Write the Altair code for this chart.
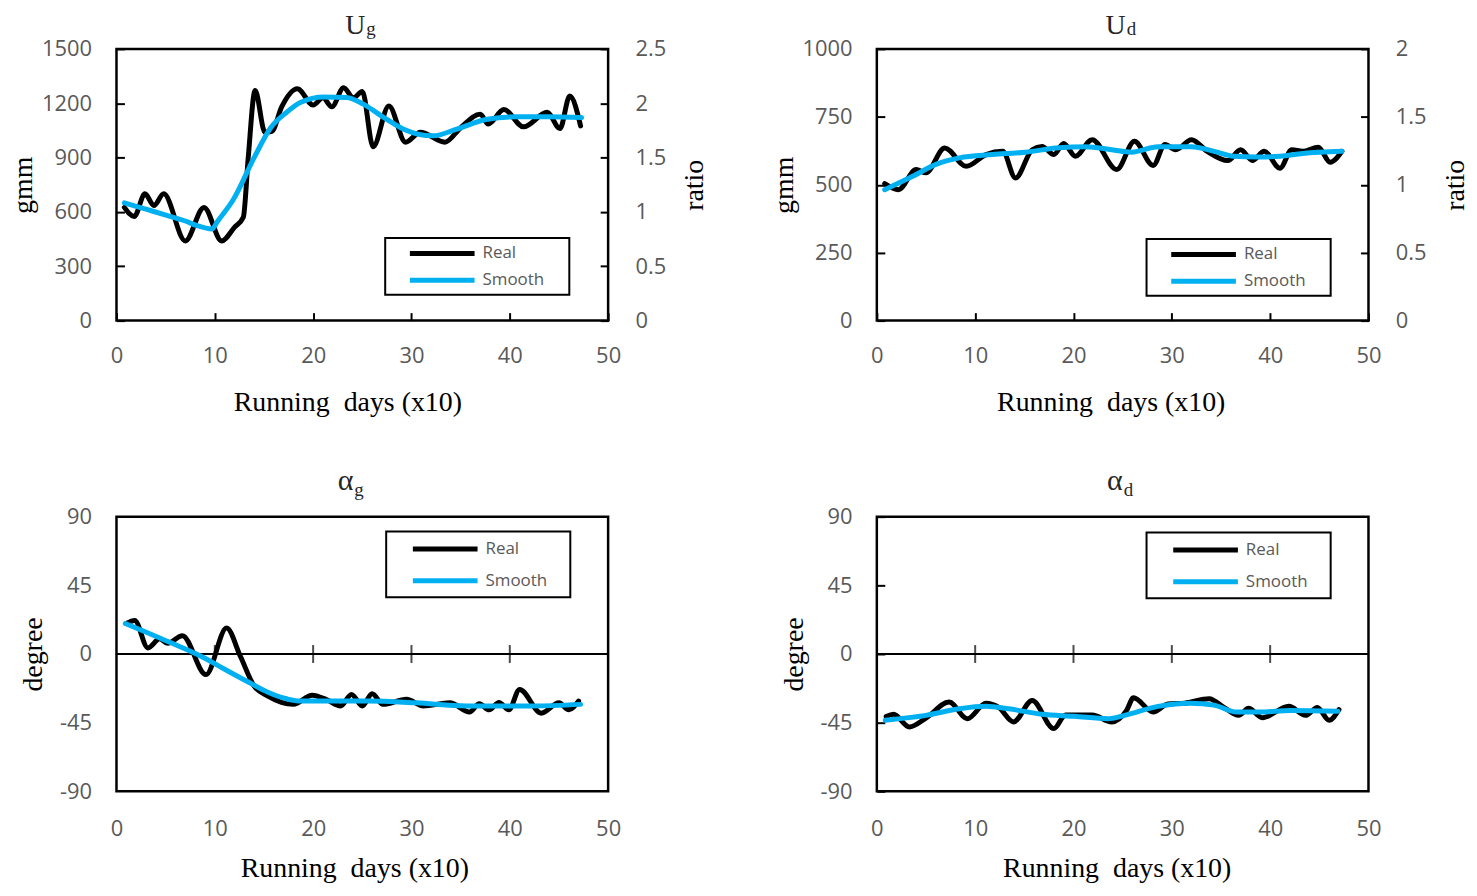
import altair as alt
import pandas as pd

# ---------------- data ----------------
x_ticks = [0, 10, 20, 30, 40, 50]
zero_line_ticks = [10, 20, 30, 40]
series_names = ["Real", "Smooth"]
series_colors = ["#000000", "#00B0F0"]

# U_g  (gmm)
ug_real_x = [0.8, 1.8, 2.9, 3.8, 4.8, 7.0, 8.9, 10.7, 12.0, 12.9, 13.4, 14.1, 15.1, 15.8, 16.8, 18.4,
             20.0, 21.0, 21.9, 23.1, 24.1, 25.0, 26.1, 27.7, 29.4, 30.9, 33.4, 35.0, 37.0, 37.8,
             39.4, 41.4, 43.8, 45.1, 46.1, 47.2]
ug_real_y = [625, 575, 700, 635, 700, 440, 625, 440, 515, 570, 900, 1270, 1040, 1045, 1180, 1280,
             1190, 1230, 1180, 1285, 1230, 1265, 960, 1185, 985, 1040, 985, 1065, 1140, 1085,
             1165, 1070, 1150, 1060, 1240, 1075]
ug_smooth_x = [0.8, 3.0, 5.2, 7.0, 8.2, 9.7, 10.3, 11.9, 14.0, 15.7, 17.3, 18.7, 21.1, 23.4, 25.1,
               27.2, 29.2, 32.2, 34.6, 37.7, 40.7, 43.8, 47.3]
ug_smooth_y = [650, 615, 580, 550, 524, 506, 550, 670, 900, 1066, 1150, 1204, 1235, 1232, 1195,
               1121, 1057, 1020, 1057, 1112, 1125, 1125, 1121]
ug_ticks = [0, 300, 600, 900, 1200, 1500]
ug_ratio_ticks = [0, 0.5, 1, 1.5, 2, 2.5]

# U_d  (gmm)
ud_real_x = [0.8, 2.2, 4.0, 5.0, 6.9, 9.1, 11.1, 12.8, 14.1, 15.8, 16.8, 18.0, 19.0, 20.2, 21.9,
             24.4, 26.2, 28.1, 29.3, 30.4, 32.0, 33.6, 35.7, 37.0, 38.2, 39.4, 41.0, 42.2, 43.3,
             44.9, 46.1, 47.3]
ud_real_y = [504, 482, 556, 544, 635, 568, 611, 623, 525, 629, 641, 611, 652, 605, 666,
             556, 660, 571, 648, 629, 666, 623, 589, 629, 589, 623, 561, 629, 623,
             638, 583, 623]
ud_smooth_x = [0.8, 3.7, 6.0, 8.4, 11.75, 15.1, 18.5, 21.2, 23.9, 25.9, 28.6, 32.0, 34.3, 36.3,
               38.7, 41.0, 43.3, 47.3]
ud_smooth_y = [482, 532, 575, 599, 611, 620, 636, 640, 629, 620, 640, 640, 623, 605,
               602, 605, 615, 623]
ud_ticks = [0, 250, 500, 750, 1000]
ud_ratio_ticks = [0, 0.5, 1, 1.5, 2]

# alpha_g (degree)
ag_real_x = [1.0, 1.85, 3.2, 4.4, 5.2, 6.7, 9.1, 11.2, 12.6, 14.0, 15.4, 18.0, 19.9, 21.4, 22.8,
             23.9, 25.0, 26.0, 27.1, 29.5, 31.2, 33.9, 35.9, 36.9, 37.9, 38.9, 39.9, 41.0, 43.2,
             45.0, 46.0, 47.0]
ag_real_y = [20, 22, 4, 10, 7, 12, -13.5, 17, -1.5, -21, -27.6, -33, -27, -30, -34,
             -26.5, -34, -26, -33, -29.7, -34, -32, -38, -32.6, -36.6, -31.7, -36.6, -23.2, -38.8,
             -31.9, -36.6, -30.8]
ag_smooth_x = [0.9, 5.3, 8.6, 11.0, 13.3, 15.4, 17.4, 18.7, 25.5, 30.5, 35.6, 42.3, 47.2]
ag_smooth_y = [20, 8, -1.5, -10, -18, -25, -29.5, -30.8, -30.8, -32, -34, -34, -33]

# alpha_d (degree)
ad_real_x = [0.95, 1.7, 3.3, 5.0, 7.35, 9.2, 11.1, 12.4, 13.9, 15.8, 18.0, 19.2, 21.9, 23.9, 25.4,
             26.1, 28.1, 29.6, 31.3, 33.8, 35.3, 36.8, 37.8, 39.2, 41.9, 43.6, 44.8, 46.0, 47.0]
ad_real_y = [-41, -39.5, -47.8, -42, -31.5, -42.4, -32.2, -35, -44.5, -30.4, -48.9, -40, -40, -44.5, -37,
             -28.7, -38, -32.7, -32.2, -29.3, -35, -40.2, -35.6, -41.7, -34.3, -40.2, -35, -43.4, -36.4]
ad_smooth_x = [0.85, 5.0, 8.4, 11.1, 13.4, 16.8, 20.1, 23.5, 25.2, 28.6, 31.9, 34.3, 36.6, 39.0,
               42.0, 46.9]
ad_smooth_y = [-43.4, -40.2, -35.9, -34.3, -35.9, -39.5, -40.8, -42.4, -40.2, -34.3, -32.2, -33.5,
               -38, -38, -37, -37.5]
deg_ticks = [-90, -45, 0, 45, 90]

title_main = ["U", "U", "\u03b1", "\u03b1"]
title_sub = ["g", "d", "g", "d"]
x_title = "Running\u00a0 days (x10)"

# ---------------- styling ----------------
W = 494
H_TOP = 273
H_BOT = 276
SERIF = "Liberation Serif"
SANS = "Open Sans"
GRAY = "#595959"


def series_df(rx, ry, sx, sy):
    return pd.DataFrame({
        "day": list(rx) + list(sx),
        "val": list(ry) + list(sy),
        "series": ["Real"] * len(rx) + ["Smooth"] * len(sx),
    })


def make_legend(lx, ly, pad, rowpad, right_pt):
    return alt.Legend(
        title=None, orient="none", legendX=lx, legendY=ly, padding=pad, rowPadding=rowpad,
        symbolType=f"M-6.2,0M-4,0H4M{right_pt},0", symbolSize=264, symbolStrokeWidth=5,
        symbolOffset=41.8, labelOffset=29.5,
        labelFont=SANS, labelFontSize=17, labelColor=GRAY,
        strokeColor="black", fillColor="white",
    )


def x_axis(top, title_x):
    common = dict(values=x_ticks, format="d", orient="bottom", domain=False, grid=False,
                  labelFlush=False, labelOverlap=False, labelFont=SANS, labelFontSize=22,
                  labelColor=GRAY, title=x_title, titleFont=SERIF, titleFontSize=28,
                  titleFontWeight="normal", titleColor="black", titleX=title_x,
                  titleBaseline="alphabetic")
    if top:
        return alt.Axis(offset=-8, ticks=True, tickSize=8, tickWidth=2, tickColor="black",
                        labelPadding=25, titleY=98, **common)
    return alt.Axis(ticks=False, tickSize=0, labelPadding=27, titleY=86, **common)


def y_axis(values, title, title_x, orient="left", tick_opacity=1):
    return alt.Axis(values=values, orient=orient, offset=-8, ticks=True, tickSize=8, tickWidth=2,
                    tickColor="black", tickOpacity=tick_opacity, domain=False, grid=False,
                    labelPadding=25 if orient == "left" else 27,
                    labelExpr="toString(datum.value)", labelFont=SANS, labelFontSize=22,
                    labelColor=GRAY, title=title, titleFont=SERIF, titleFontSize=28,
                    titleFontWeight="normal", titleColor="black", titleX=title_x,
                    titleAngle=270, titleBaseline="middle")


def title_layers(i, right_x, main_y, main_size, sub_y, sub_size):
    d = pd.DataFrame({"main": [title_main[i]], "sub": [title_sub[i]]})
    t1 = alt.Chart(d).mark_text(font=SERIF, fontSize=main_size, align="right",
                                baseline="alphabetic", color="#262626").encode(
        text="main:N", x=alt.value(right_x), y=alt.value(main_y))
    t2 = alt.Chart(d).mark_text(font=SERIF, fontSize=sub_size, align="left",
                                baseline="alphabetic", color="#262626").encode(
        text="sub:N", x=alt.value(right_x + 1), y=alt.value(sub_y))
    return [t1, t2]


def lines_layer(df, y_domain, xax, yax, legend):
    return alt.Chart(df).mark_line(strokeWidth=5, interpolate="monotone", strokeCap="round",
                                   strokeJoin="round").encode(
        x=alt.X("day:Q", scale=alt.Scale(domain=[0, 50], nice=False), axis=xax),
        y=alt.Y("val:Q", scale=alt.Scale(domain=y_domain, nice=False), axis=yax),
        color=alt.Color("series:N", scale=alt.Scale(domain=series_names, range=series_colors),
                        legend=legend),
    )


def top_panel(i, rx, ry, sx, sy, y_ticks, ratio_ticks, title_x, leg):
    lines = lines_layer(series_df(rx, ry, sx, sy), [y_ticks[0], y_ticks[-1]],
                        x_axis(True, title_x), y_axis(y_ticks, "gmm", -101), leg)
    ratio = alt.Chart(pd.DataFrame({"r": ratio_ticks})).mark_point(opacity=0).encode(
        y=alt.Y("r:Q", scale=alt.Scale(domain=[ratio_ticks[0], ratio_ticks[-1]], nice=False),
                axis=y_axis(ratio_ticks, "ratio", 95, orient="right")))
    return alt.layer(lines, ratio, *title_layers(i, 250, -15, 28, -14, 19)).resolve_scale(
        y="independent").properties(width=W, height=H_TOP)


def bottom_panel(i, rx, ry, sx, sy, title_x, leg, tick_opacity, title_right):
    xax = x_axis(False, title_x)
    yax = y_axis(deg_ticks, "degree", -91, tick_opacity=tick_opacity)
    ydom = alt.Scale(domain=[deg_ticks[0], deg_ticks[-1]], nice=False)
    zero = alt.Chart(pd.DataFrame({"val": [0]})).mark_rule(color="black", strokeWidth=2).encode(
        y=alt.Y("val:Q", scale=ydom, axis=yax))
    zt = alt.Chart(pd.DataFrame({"day": zero_line_ticks, "val": [0] * len(zero_line_ticks)})).mark_tick(
        orient="vertical", size=18, thickness=2, color="black").encode(
        x=alt.X("day:Q", scale=alt.Scale(domain=[0, 50], nice=False), axis=xax),
        y=alt.Y("val:Q", scale=ydom, axis=yax))
    lines = lines_layer(series_df(rx, ry, sx, sy), [deg_ticks[0], deg_ticks[-1]], xax, yax, leg)
    return alt.layer(zero, zt, lines, *title_layers(i, title_right, -27, 30, -21, 19)).properties(
        width=W, height=H_BOT)


p1 = top_panel(0, ug_real_x, ug_real_y, ug_smooth_x, ug_smooth_y, ug_ticks, ug_ratio_ticks, 232,
               make_legend(270, 190, 4.5, 6, 13.85))
p2 = top_panel(1, ud_real_x, ud_real_y, ud_smooth_x, ud_smooth_y, ud_ticks, ud_ratio_ticks, 235,
               make_legend(271, 191, 4.5, 6, 13.85))
p3 = bottom_panel(2, ag_real_x, ag_real_y, ag_smooth_x, ag_smooth_y, 239,
                  make_legend(271, 15, 6.5, 11, 13.35), 0, 238)
p4 = bottom_panel(3, ad_real_x, ad_real_y, ad_smooth_x, ad_smooth_y, 241,
                  make_legend(271, 16, 6.5, 11, 13.35), 1, 247)

chart = alt.concat(p1, p2, p3, p4, columns=2, spacing={"row": 197, "column": 270},
                   bounds="flush").resolve_scale(color="independent").resolve_legend(
    color="independent").configure_view(stroke="black", strokeWidth=2.5).configure_legend(
    strokeWidth=2).properties(padding={"left": 0, "top": 0, "right": -2, "bottom": 0})

chart.save("out.html", embed_options={"renderer": "svg", "actions": False})
